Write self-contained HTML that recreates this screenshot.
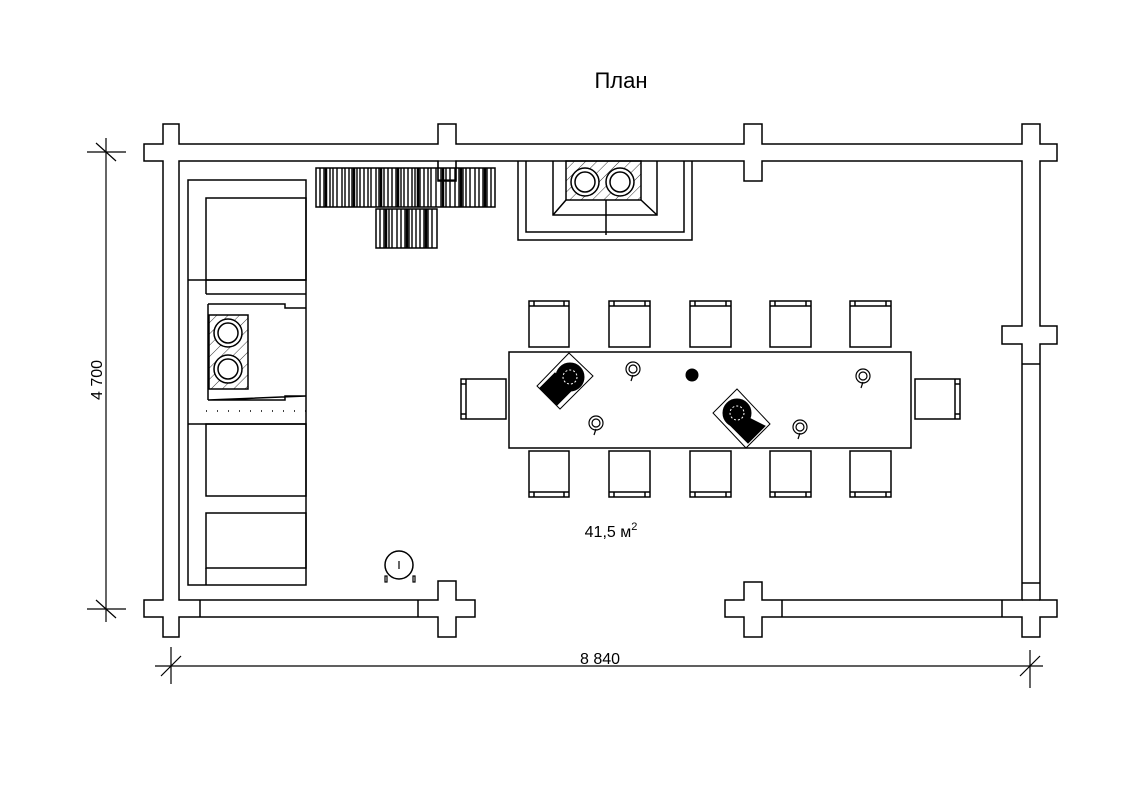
<!DOCTYPE html>
<html><head><meta charset="utf-8"><style>html,body{margin:0;padding:0;background:#fff}svg{display:block}</style></head>
<body>
<svg width="1123" height="794" viewBox="0 0 1123 794" xmlns="http://www.w3.org/2000/svg" font-family="Liberation Sans, Arial, sans-serif">
<defs>
<pattern id="h" width="8" height="8" patternUnits="userSpaceOnUse" patternTransform="rotate(45)"><line x1="0" y1="0" x2="0" y2="8" stroke="#000" stroke-width="0.8"/></pattern>
</defs>
<rect width="1123" height="794" fill="#fff"/>
<text x="621" y="88" font-size="22" text-anchor="middle">План</text>
<g fill="none" stroke="#000" stroke-width="1.5">
<path d="M144,144 H163 V124 H179 V144 H438 V124 H456 V144 H744 V124 H762 V144 H1022 V124 H1040 V144 H1057 V161 H1040 V326 H1057 V344 H1040 V583 H1040 V600 H1057 V617 H1040 V637 H1022 V617 H762 V637 H744 V617 H725 V600 H744 V582 H762 V600 H1022 V344 H1002 V326 H1022 V161 H762 V181 H744 V161 H456 V181 H438 V161 H179 V600 H438 V581 H456 V600 H475 V617 H456 V637 H438 V617 H179 V637 H163 V617 H144 V600 H163 V161 H144 Z"/>
<line x1="200" y1="600" x2="200" y2="617"/><line x1="418" y1="600" x2="418" y2="617"/>
<line x1="782" y1="600" x2="782" y2="617"/><line x1="1002" y1="600" x2="1002" y2="617"/>
<line x1="1022" y1="364" x2="1040" y2="364"/><line x1="1022" y1="583" x2="1040" y2="583"/>
<line x1="1022" y1="600" x2="1040" y2="600"/>
<rect x="188" y="180" width="118" height="405"/>
<rect x="206" y="198" width="100" height="82"/>
<line x1="188" y1="280" x2="306" y2="280"/>
<line x1="206" y1="294" x2="306" y2="294"/>
<line x1="206" y1="280" x2="206" y2="294"/>
<path d="M208,304 H285 V308 H306 M306,396 H285 V400 H208 Z" />
<line x1="208" y1="304" x2="208" y2="400"/>
<rect x="209" y="315" width="39" height="74" fill="url(#h)"/>
<circle cx="228" cy="333" r="14" fill="#fff"/><circle cx="228" cy="333" r="10"/>
<circle cx="228" cy="369" r="14" fill="#fff"/><circle cx="228" cy="369" r="10"/>
<line x1="188" y1="424" x2="306" y2="424"/>
<line x1="206" y1="411" x2="306" y2="411" stroke-dasharray="1 10"/>
<rect x="206" y="424" width="100" height="72"/>
<rect x="206" y="513" width="100" height="55"/>
<line x1="206" y1="568" x2="206" y2="585"/>
<path d="M518,161 V240 H692 V161"/>
<path d="M526,161 V232 H684 V161"/>
<path d="M553,161 V215 H657 V161"/>
<rect x="566" y="161" width="75" height="39" fill="url(#h)"/>
<line x1="553" y1="215" x2="566" y2="200"/><line x1="657" y1="215" x2="641" y2="200"/>
<circle cx="585" cy="182" r="14" fill="#fff"/><circle cx="585" cy="182" r="10"/>
<circle cx="620" cy="182" r="14" fill="#fff"/><circle cx="620" cy="182" r="10"/>
<line x1="606" y1="200" x2="606" y2="235"/>
<rect x="509" y="352" width="402" height="96"/>
</g>
<g stroke="#000" fill="none">
<rect x="316" y="168" width="179" height="39" stroke-width="1.5"/>
<rect x="376" y="209" width="61" height="39" stroke-width="1.5"/>
<g stroke-width="1.4">
<path d="M320,168v39M324,168v39M330,168v39M333,168v39M337,168v39M342,168v39M345,168v39M349,168v39M352,168v39M357,168v39M360,168v39M364,168v39M368,168v39M371,168v39M376,168v39M379,168v39M384,168v39M388,168v39M392,168v39M396,168v39M401,168v39M404,168v39M408,168v39M412,168v39M415,168v39M420,168v39M424,168v39M428,168v39M431,168v39M436,168v39M441,168v39M446,168v39M450,168v39M455,168v39M459,168v39M463,168v39M466,168v39M470,168v39M475,168v39M479,168v39M483,168v39M487,168v39M491,168v39"/>
<path d="M380,209v39M384,209v39M389,209v39M392,209v39M397,209v39M401,209v39M405,209v39M409,209v39M412,209v39M416,209v39M420,209v39M424,209v39M428,209v39M432,209v39"/>
</g>
<g stroke-width="2.5"><path d="M326,168v39M354,168v39M381,168v39M398,168v39M418,168v39M443,168v39M461,168v39M485,168v39M386,209v39M407,209v39M426,209v39"/></g>
<rect x="438" y="161" width="18" height="19" stroke-width="1.2"/>
</g>
<g fill="#fff" stroke="#000" stroke-width="1.5">
<g transform="translate(529,301)"><rect width="40" height="46"/><path d="M0,5H40M5,0V5M35,0V5" fill="none"/></g>
<g transform="translate(609,301)"><rect width="41" height="46"/><path d="M0,5H41M5,0V5M36,0V5" fill="none"/></g>
<g transform="translate(690,301)"><rect width="41" height="46"/><path d="M0,5H41M5,0V5M36,0V5" fill="none"/></g>
<g transform="translate(770,301)"><rect width="41" height="46"/><path d="M0,5H41M5,0V5M36,0V5" fill="none"/></g>
<g transform="translate(850,301)"><rect width="41" height="46"/><path d="M0,5H41M5,0V5M36,0V5" fill="none"/></g>
<g transform="translate(529,451)"><rect width="40" height="46"/><path d="M0,41H40M5,41V46M35,41V46" fill="none"/></g>
<g transform="translate(609,451)"><rect width="41" height="46"/><path d="M0,41H41M5,41V46M36,41V46" fill="none"/></g>
<g transform="translate(690,451)"><rect width="41" height="46"/><path d="M0,41H41M5,41V46M36,41V46" fill="none"/></g>
<g transform="translate(770,451)"><rect width="41" height="46"/><path d="M0,41H41M5,41V46M36,41V46" fill="none"/></g>
<g transform="translate(850,451)"><rect width="41" height="46"/><path d="M0,41H41M5,41V46M36,41V46" fill="none"/></g>
<g transform="translate(461,379)"><rect width="45" height="40"/><path d="M5,0V40M0,5H5M0,35H5" fill="none"/></g>
<g transform="translate(915,379)"><rect width="45" height="40"/><path d="M40,0V40M40,5H45M40,35H45" fill="none"/></g>
</g>
<g stroke="#000" stroke-width="1">
<polygon points="569,353 593,376 560,409 537,386" fill="none"/>
<circle cx="570" cy="377" r="14" fill="#000"/>
<polygon points="540,388 555,373 572,390 557,405" fill="#000"/>
<circle cx="570" cy="377" r="7" fill="none" stroke="#fff" stroke-dasharray="2 2"/>
<polygon points="737,389 770,424 746,448 713,413" fill="none"/>
<circle cx="737" cy="413" r="14" fill="#000"/>
<polygon points="745,416 765,426 748,443 730,425" fill="#000"/>
<circle cx="737" cy="413" r="7" fill="none" stroke="#fff" stroke-dasharray="2 2"/>
<circle cx="692" cy="375" r="6" fill="#000"/>
</g>
<g fill="none" stroke="#000" stroke-width="1.2">
<g transform="translate(633,369)"><circle r="7"/><circle r="4"/><line x1="0" y1="6" x2="-2" y2="12"/></g>
<g transform="translate(596,423)"><circle r="7"/><circle r="4"/><line x1="0" y1="6" x2="-2" y2="12"/></g>
<g transform="translate(800,427)"><circle r="7"/><circle r="4"/><line x1="0" y1="6" x2="-2" y2="12"/></g>
<g transform="translate(863,376)"><circle r="7"/><circle r="4"/><line x1="0" y1="6" x2="-2" y2="12"/></g>
<circle cx="399" cy="565" r="14" stroke-width="1.5"/>
<rect x="385" y="576" width="2" height="6"/><rect x="413" y="576" width="2" height="6"/>
<line x1="399" y1="561" x2="399" y2="569"/>
</g>
<text x="611" y="537" font-size="16" text-anchor="middle">41,5 м<tspan font-size="11" dy="-7">2</tspan></text>
<g stroke="#000" stroke-width="1.2" fill="none">
<line x1="155" y1="666" x2="1043" y2="666"/>
<line x1="171" y1="647" x2="171" y2="684"/><line x1="161" y1="676" x2="181" y2="656"/>
<line x1="1030" y1="650" x2="1030" y2="688"/><line x1="1020" y1="676" x2="1040" y2="656"/>
<line x1="106" y1="138" x2="106" y2="622"/>
<line x1="87" y1="152" x2="126" y2="152"/><line x1="96" y1="143" x2="116" y2="161"/>
<line x1="87" y1="609" x2="126" y2="609"/><line x1="96" y1="600" x2="116" y2="618"/>
</g>
<text x="600" y="664" font-size="16" text-anchor="middle">8 840</text>
<text x="0" y="0" font-size="16" text-anchor="middle" transform="translate(102,380) rotate(-90)">4 700</text>
</svg>
</body></html>
